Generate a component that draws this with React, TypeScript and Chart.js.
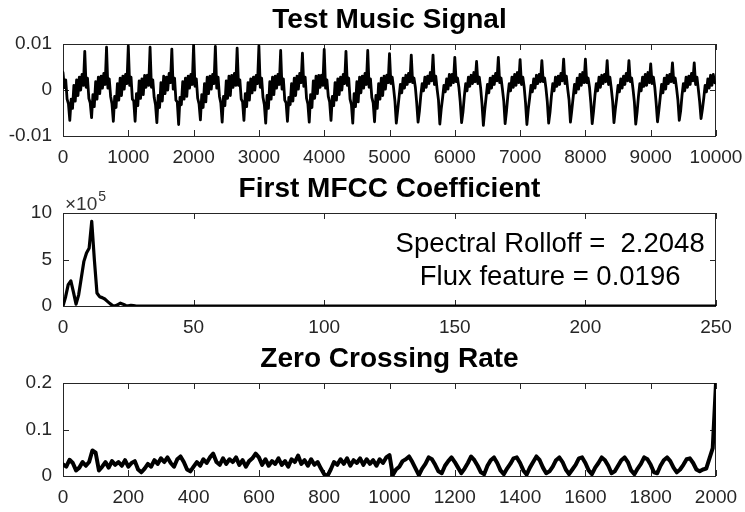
import React, { useEffect, useRef } from 'react';
import { Chart, registerables } from 'chart.js';

Chart.register(...registerables);

const FONT = '"Liberation Sans", Arial, Helvetica, sans-serif';
const INK = '#000000';
const AXIS = '#262626';

// ---- Test music signal (values in units of 1e-3) ----
// One row per cycle (~333 samples, 16 readings); each row starts at that cycle's spike.
const signalCycles: number[][] = [
  [3.8, 0.5, 2.2, -2.0, -3.0, -6.6, -2.0, -4.0, 1.0, -2.4, 2.2, -1.2, 2.8, 0.0, 3.4, 1.0],
  [8.4, 0.6, 2.6, -1.8, -2.8, -6.0, -1.0, -3.6, 1.8, -2.0, 2.8, -0.8, 3.0, 0.4, 3.6, 1.2],
  [9.3, 0.4, 2.4, -1.4, -3.0, -6.8, -1.4, -3.8, 1.4, -2.2, 2.6, -1.2, 3.0, 0.2, 3.4, 1.4],
  [9.6, 1.0, 2.8, -2.0, -2.4, -6.8, -0.8, -3.4, 2.0, -1.8, 2.4, -1.0, 3.2, 0.6, 3.2, 1.0],
  [9.3, 0.6, 2.2, -1.6, -3.2, -7.1, -1.2, -3.8, 1.6, -2.4, 3.0, -0.8, 2.8, 0.0, 3.6, 1.6],
  [8.9, 0.2, 2.6, -2.2, -2.6, -7.5, -1.6, -3.2, 1.8, -2.0, 2.6, -1.4, 3.0, 0.4, 3.4, 1.2],
  [9.8, 0.8, 2.4, -1.8, -3.0, -6.5, -1.0, -3.8, 1.4, -2.6, 2.8, -0.8, 3.0, 0.2, 3.4, 1.4],
  [9.5, 0.4, 2.8, -1.4, -2.8, -7.0, -1.4, -3.4, 2.0, -1.8, 3.0, -1.2, 3.2, 0.6, 3.6, 1.0],
  [9.1, 1.0, 2.2, -2.0, -2.6, -6.6, -0.8, -3.6, 1.6, -2.2, 2.4, -0.6, 2.8, 0.0, 3.2, 1.4],
  [9.6, 0.6, 2.6, -1.6, -3.2, -7.2, -1.2, -4.0, 1.8, -2.0, 2.8, -1.0, 3.0, 0.4, 3.4, 1.2],
  [8.6, 0.2, 2.4, -2.2, -2.8, -6.8, -1.6, -3.2, 1.4, -2.4, 2.6, -1.2, 3.0, 0.2, 3.6, 1.6],
  [8.0, 0.8, 2.8, -1.8, -3.0, -7.0, -1.0, -3.8, 2.0, -1.8, 3.0, -0.8, 3.2, 0.6, 3.2, 1.0],
  [8.8, 0.4, 2.2, -1.4, -2.6, -6.6, -1.4, -3.4, 1.6, -2.2, 2.4, -1.0, 2.8, 0.0, 3.4, 1.4],
  [8.4, 1.0, 2.6, -2.0, -3.2, -7.2, -0.8, -3.6, 1.8, -2.6, 2.8, -0.6, 3.0, 0.4, 3.6, 1.2],
  [8.6, 0.6, 2.4, -1.6, -2.8, -6.9, -1.2, -4.0, 1.4, -2.0, 2.6, -1.2, 3.0, 0.2, 3.2, 1.6],
  [7.9, 1.4, 2.8, 0.4, -2.4, -7.2, -4.4, -1.6, 1.2, -0.6, 2.6, 0.4, 3.2, 1.2, 3.6, 1.8],
  [7.6, 1.6, 2.6, 0.6, -2.8, -7.0, -4.6, -1.2, 1.4, -0.2, 2.8, 0.6, 3.0, 1.4, 3.8, 2.0],
  [7.6, 1.2, 3.0, 0.2, -2.2, -7.4, -4.2, -1.8, 1.0, -0.4, 2.4, 0.2, 3.4, 1.0, 3.4, 1.6],
  [7.1, 1.8, 2.6, 0.6, -2.6, -7.1, -4.8, -1.4, 1.4, -0.2, 2.8, 0.8, 3.2, 1.4, 3.8, 1.8],
  [6.2, 1.4, 2.8, 0.4, -3.0, -7.7, -4.4, -1.6, 1.2, -0.6, 2.6, 0.4, 3.0, 1.2, 3.6, 2.0],
  [7.1, 1.6, 2.6, 0.2, -2.4, -7.3, -4.6, -1.2, 1.4, -0.2, 2.8, 0.6, 3.4, 1.0, 3.8, 1.6],
  [6.6, 1.2, 2.8, 0.6, -2.8, -7.5, -4.2, -1.8, 1.0, -0.4, 2.4, 0.4, 3.2, 1.4, 3.4, 1.8],
  [6.4, 1.8, 2.6, 0.4, -2.6, -7.2, -4.8, -1.4, 1.4, -0.2, 2.8, 0.8, 3.0, 1.2, 3.6, 2.0],
  [6.7, 1.4, 3.0, 0.2, -2.2, -7.0, -4.4, -1.6, 1.2, -0.6, 2.6, 0.2, 3.4, 1.0, 3.8, 1.6],
  [6.7, 1.6, 2.6, 0.6, -2.8, -7.3, -4.6, -1.2, 1.4, -0.2, 2.8, 0.6, 3.2, 1.4, 3.4, 1.8],
  [6.4, 1.2, 2.8, 0.4, -2.4, -7.1, -4.2, -1.8, 1.0, -0.4, 2.4, 0.4, 3.0, 1.2, 3.6, 2.0],
  [6.4, 1.8, 2.6, 0.2, -2.6, -7.4, -4.8, -1.4, 1.4, -0.2, 2.8, 0.8, 3.4, 1.0, 3.8, 1.6],
  [5.7, 1.4, 2.8, 0.6, -2.8, -6.9, -4.4, -1.6, 1.2, -0.6, 2.6, 0.2, 3.2, 1.4, 3.4, 1.8],
  [5.9, 1.6, 2.6, 0.4, -2.2, -6.6, -4.6, -1.2, 1.4, -0.2, 2.8, 0.6, 3.0, 1.2, 3.6, 2.0],
  [5.9, 1.2, 2.8, 0.2, -2.6, -6.2, -4.2, -1.8, 1.0, -0.4, 2.4, 0.4, 3.2, 1.0, 3.4, 1.6],
];
const signalLast = 1.5;
const signalLength = 10000;

// ---- First MFCC coefficient (values in units of 1e5) ----
const mfccFrame = [
  0, 1, 2, 3, 4, 5, 6, 7, 8, 9, 10, 11, 12, 13, 14, 15, 16, 17, 18, 19, 20,
  21, 22, 23, 24, 25, 26, 27, 28, 29, 30, 250,
];
const mfccValue = [
  0, 1.0, 2.3, 2.7, 1.5, 0.2, 1.2, 3.0, 4.8, 5.7, 6.2, 9.1, 5.0, 1.4, 1.0, 0.9,
  0.75, 0.5, 0.25, 0.05, 0, 0.15, 0.3, 0.2, 0.05, 0.02, 0.08, 0.05, 0, 0, 0, 0,
];
const rolloffText = 'Spectral Rolloff =  2.2048';
const fluxText = 'Flux feature = 0.0196';

// ---- Zero crossing rate, one value every 10 frames (0 .. 2000) ----
const zcrStep = 10;
const zcrValue = [
  // 0 - 990
  0.025, 0.020, 0.035, 0.028, 0.012, 0.018, 0.030, 0.022, 0.030, 0.055,
  0.050, 0.012, 0.020, 0.030, 0.018, 0.032, 0.024, 0.030, 0.022, 0.034,
  0.020, 0.028, 0.032, 0.014, 0.008, 0.016, 0.026, 0.020, 0.034, 0.026,
  0.038, 0.030, 0.040, 0.028, 0.020, 0.036, 0.042, 0.030, 0.014, 0.010,
  0.020, 0.030, 0.022, 0.036, 0.028, 0.040, 0.048, 0.030, 0.024, 0.038,
  0.026, 0.036, 0.030, 0.040, 0.024, 0.034, 0.020, 0.032, 0.038, 0.048,
  0.040, 0.024, 0.036, 0.022, 0.032, 0.026, 0.038, 0.024, 0.032, 0.020,
  0.036, 0.030, 0.044, 0.026, 0.034, 0.022, 0.036, 0.024, 0.030, 0.016,
  0.004, 0.000, 0.014, 0.030, 0.024, 0.036, 0.026, 0.038, 0.022, 0.034,
  0.028, 0.038, 0.024, 0.036, 0.026, 0.034, 0.022, 0.036, 0.028, 0.040,
  // 1000 - 2000
  0.045, 0.002, 0.014, 0.020, 0.032, 0.036, 0.042, 0.030, 0.016, 0.002,
  0.016, 0.026, 0.040, 0.036, 0.024, 0.010, 0.006, 0.022, 0.032, 0.040,
  0.030, 0.018, 0.006, 0.016, 0.028, 0.042, 0.034, 0.022, 0.008, 0.004,
  0.022, 0.034, 0.040, 0.028, 0.012, 0.004, 0.016, 0.026, 0.038, 0.040,
  0.028, 0.012, 0.003, 0.018, 0.030, 0.042, 0.034, 0.018, 0.006, 0.010,
  0.020, 0.034, 0.040, 0.030, 0.014, 0.004, 0.014, 0.024, 0.038, 0.040,
  0.028, 0.012, 0.004, 0.018, 0.028, 0.040, 0.034, 0.022, 0.006, 0.010,
  0.022, 0.034, 0.040, 0.030, 0.012, 0.004, 0.016, 0.026, 0.040, 0.036,
  0.024, 0.008, 0.006, 0.022, 0.034, 0.040, 0.032, 0.018, 0.008, 0.014,
  0.024, 0.036, 0.038, 0.028, 0.014, 0.010, 0.014, 0.016, 0.038, 0.060,
  0.200,
];

type Pt = { x: number; y: number };

const signalSamples: number[] = [...signalCycles.flat(), signalLast];
const signalPoints: Pt[] = signalSamples.map((v, i) => ({
  x: (i * signalLength) / (signalSamples.length - 1),
  y: v,
}));
const mfccPoints: Pt[] = mfccFrame.map((f, i) => ({ x: f, y: mfccValue[i] }));
const zcrPoints: Pt[] = zcrValue.map((v, i) => ({ x: i * zcrStep, y: v }));

interface PanelSpec {
  key: string;
  top: number;
  height: number;
  points: Pt[];
  lineWidth: number;
  xMax: number;
  xStep: number;
  yMin: number;
  yMax: number;
  yStep: number;
  yLabel: (v: number) => string;
  title: string;
  plotTop: number;
  xAxisHeight: number;
  decorate?: (chart: Chart) => void;
}

const TICK_LEN = 6;

function makeDecor(spec: PanelSpec) {
  return {
    id: 'matlabFrame',
    beforeDatasetsDraw(chart: Chart) {
      const { ctx, chartArea } = chart;
      const { left, right, top, bottom } = chartArea;
      const xs = chart.scales.x;
      const ys = chart.scales.y;
      ctx.save();
      ctx.strokeStyle = AXIS;
      ctx.lineWidth = 1;
      ctx.beginPath();
      xs.ticks.forEach((t) => {
        const px = Math.round(xs.getPixelForValue(t.value)) + 0.5;
        ctx.moveTo(px, bottom);
        ctx.lineTo(px, bottom - TICK_LEN);
        ctx.moveTo(px, top);
        ctx.lineTo(px, top + TICK_LEN);
      });
      ys.ticks.forEach((t) => {
        const py = Math.round(ys.getPixelForValue(t.value)) + 0.5;
        ctx.moveTo(left, py);
        ctx.lineTo(left + TICK_LEN, py);
        ctx.moveTo(right, py);
        ctx.lineTo(right - TICK_LEN, py);
      });
      ctx.stroke();
      ctx.strokeRect(
        Math.round(left) + 0.5,
        Math.round(top) + 0.5,
        Math.round(right - left) - 1,
        Math.round(bottom - top)
      );
      ctx.restore();
    },
    afterDraw(chart: Chart) {
      const { ctx, chartArea } = chart;
      ctx.save();
      ctx.fillStyle = INK;
      ctx.font = `bold 28px ${FONT}`;
      ctx.textAlign = 'center';
      ctx.textBaseline = 'alphabetic';
      ctx.fillText(spec.title, (chartArea.left + chartArea.right) / 2, chartArea.top - 16);
      ctx.restore();
      if (spec.decorate) spec.decorate(chart);
    },
  };
}

function drawMfccNotes(chart: Chart) {
  const { ctx, chartArea } = chart;
  const xs = chart.scales.x;
  const ys = chart.scales.y;
  ctx.save();
  // axis exponent label
  ctx.fillStyle = '#333333';
  ctx.textAlign = 'left';
  ctx.textBaseline = 'alphabetic';
  ctx.font = `19px ${FONT}`;
  const base = '\u00d710';
  const bx = chartArea.left + 2;
  const by = chartArea.top - 3;
  ctx.fillText(base, bx, by);
  const w = ctx.measureText(base).width;
  ctx.font = `14px ${FONT}`;
  ctx.fillText('5', bx + w + 1, by - 9);
  // feature annotations
  ctx.fillStyle = INK;
  ctx.font = `27.5px ${FONT}`;
  ctx.textAlign = 'center';
  const cx = xs.getPixelForValue(186.5);
  ctx.fillText(rolloffText, cx, ys.getPixelForValue(5.8));
  ctx.fillText(fluxText, cx, ys.getPixelForValue(2.25));
  ctx.restore();
}

function Panel({ spec }: { spec: PanelSpec }) {
  const ref = useRef<HTMLCanvasElement>(null);
  useEffect(() => {
    const canvas = ref.current;
    if (!canvas) return;
    const tickFont = { size: 19, family: FONT };
    const chart = new Chart(canvas, {
      type: 'line',
      data: {
        datasets: [
          {
            data: spec.points,
            borderColor: INK,
            borderWidth: spec.lineWidth,
            pointRadius: 0,
            tension: 0,
            fill: false,
            borderJoinStyle: 'round',
            borderCapStyle: 'round',
          },
        ],
      },
      options: {
        responsive: false,
        animation: false,
        devicePixelRatio: 1,
        parsing: false,
        events: [],
        layout: { padding: { left: 0, right: 29, top: spec.plotTop, bottom: 0 } },
        plugins: {
          legend: { display: false },
          tooltip: { enabled: false },
          title: { display: false },
        },
        scales: {
          x: {
            type: 'linear',
            min: 0,
            max: spec.xMax,
            grid: { display: false, drawTicks: false },
            border: { display: false },
            ticks: {
              stepSize: spec.xStep,
              autoSkip: false,
              maxRotation: 0,
              padding: 10,
              color: AXIS,
              font: tickFont,
              callback: (v) => String(v),
            },
            afterFit: (s) => {
              s.height = spec.xAxisHeight;
              s.paddingLeft = 0;
              s.paddingRight = 0;
            },
          },
          y: {
            type: 'linear',
            min: spec.yMin,
            max: spec.yMax,
            grid: { display: false, drawTicks: false },
            border: { display: false },
            ticks: {
              stepSize: spec.yStep,
              padding: 11,
              color: AXIS,
              font: tickFont,
              callback: (v) => spec.yLabel(Number(v)),
            },
            afterFit: (s) => {
              s.width = 63;
            },
          },
        },
      },
      plugins: [makeDecor(spec)],
    });
    return () => chart.destroy();
  }, [spec]);
  return (
    <canvas
      ref={ref}
      width={745}
      height={spec.height}
      style={{ position: 'absolute', left: 0, top: spec.top, display: 'block' }}
    />
  );
}

const panels: PanelSpec[] = [
  {
    key: 'signal',
    top: 0,
    height: 170,
    points: signalPoints,
    lineWidth: 2.8,
    xMax: 10000,
    xStep: 1000,
    yMin: -10,
    yMax: 10,
    yStep: 10,
    yLabel: (v) => (v === 0 ? '0' : String(v / 1000)),
    title: 'Test Music Signal',
    plotTop: 44,
    xAxisHeight: 34,
  },
  {
    key: 'mfcc',
    top: 170,
    height: 170,
    points: mfccPoints,
    lineWidth: 3.2,
    xMax: 250,
    xStep: 50,
    yMin: 0,
    yMax: 10,
    yStep: 5,
    yLabel: (v) => String(v),
    title: 'First MFCC Coefficient',
    plotTop: 43,
    xAxisHeight: 34,
    decorate: drawMfccNotes,
  },
  {
    key: 'zcr',
    top: 340,
    height: 172,
    points: zcrPoints,
    lineWidth: 4,
    xMax: 2000,
    xStep: 200,
    yMin: 0,
    yMax: 0.2,
    yStep: 0.1,
    yLabel: (v) => (v === 0 ? '0' : v.toFixed(1)),
    title: 'Zero Crossing Rate',
    plotTop: 43,
    xAxisHeight: 36,
  },
];

export default function App() {
  return (
    <div
      style={{
        position: 'absolute',
        left: 0,
        top: 0,
        width: 745,
        height: 512,
        background: '#ffffff',
        overflow: 'hidden',
      }}
    >
      {panels.map((p) => (
        <Panel key={p.key} spec={p} />
      ))}
    </div>
  );
}
